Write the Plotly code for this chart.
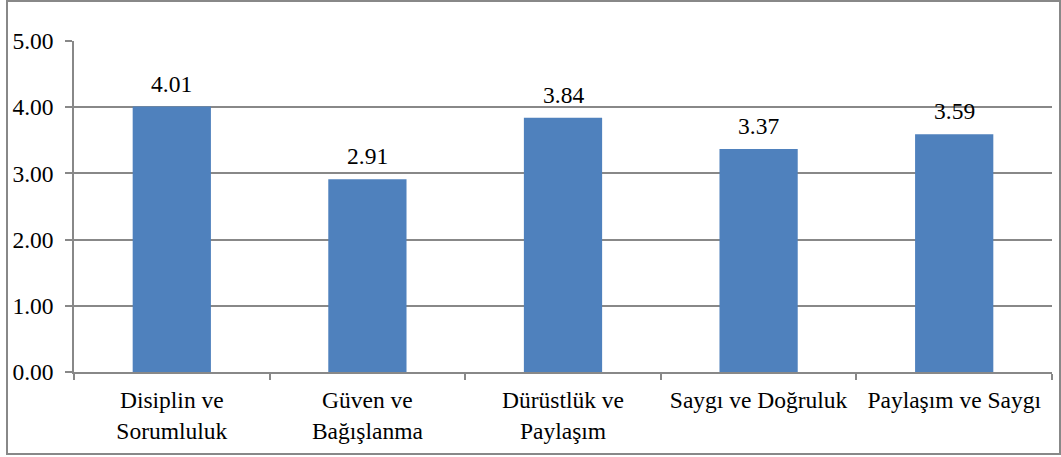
import plotly.graph_objects as go

categories = ["Disiplin ve<br>Sorumluluk", "Güven ve<br>Bağışlanma", "Dürüstlük ve<br>Paylaşım",
              "Saygı ve Doğruluk", "Paylaşım ve Saygı"]
values = [4.01, 2.91, 3.84, 3.37, 3.59]
y_ticks = [0, 1, 2, 3, 4, 5]
y_tick_labels = ["0.00", "1.00", "2.00", "3.00", "4.00", "5.00"]

GRAY = "#888888"
FONT = "Liberation Serif"
FS = 23.5

fig = go.Figure()
fig.add_trace(go.Bar(x=categories, y=values, marker=dict(color="#4F81BD", line=dict(width=0)),
                     showlegend=False, hoverinfo="skip"))

for c, v in zip(categories, values):
    fig.add_annotation(x=c, y=v, text=f"{v:.2f}", showarrow=False, yanchor="bottom",
                       yshift=8, font=dict(family=FONT, size=FS, color="black"))

L, R, T, B = 74, 9, 41, 85
W, H = 1061, 457
pw, ph = W - L - R, H - T - B
def px(x):
    return (x - L) / pw
def py(y):
    return (H - B - y) / ph

fig.add_shape(type="rect", xref="paper", yref="paper",
              x0=px(7), x1=px(1060), y0=py(454), y1=py(1),
              line=dict(color=GRAY, width=2), fillcolor="rgba(0,0,0,0)", layer="below")

fig.update_layout(
    width=W, height=H,
    margin=dict(l=L, r=R, t=T, b=B, pad=0),
    paper_bgcolor="white", plot_bgcolor="white",
    bargap=0.6,
    font=dict(family=FONT, size=FS, color="black"),
    xaxis=dict(showline=True, linecolor=GRAY, linewidth=1.5, ticks="outside", tickson="boundaries",
               ticklen=6, tickcolor=GRAY, tickwidth=1.5, showgrid=False, ticklabelstandoff=6,
               tickfont=dict(family=FONT, size=FS, color="black")),
    yaxis=dict(range=[0, 5], tickvals=y_ticks, ticktext=y_tick_labels, showline=True,
               linecolor=GRAY, linewidth=1.5, ticks="outside", ticklen=7, tickcolor=GRAY,
               tickwidth=1.5, showgrid=True, gridcolor=GRAY, gridwidth=1.5, zeroline=False,
               ticklabelstandoff=7,
               tickfont=dict(family=FONT, size=FS, color="black")),
)

fig.write_html("out.html")
